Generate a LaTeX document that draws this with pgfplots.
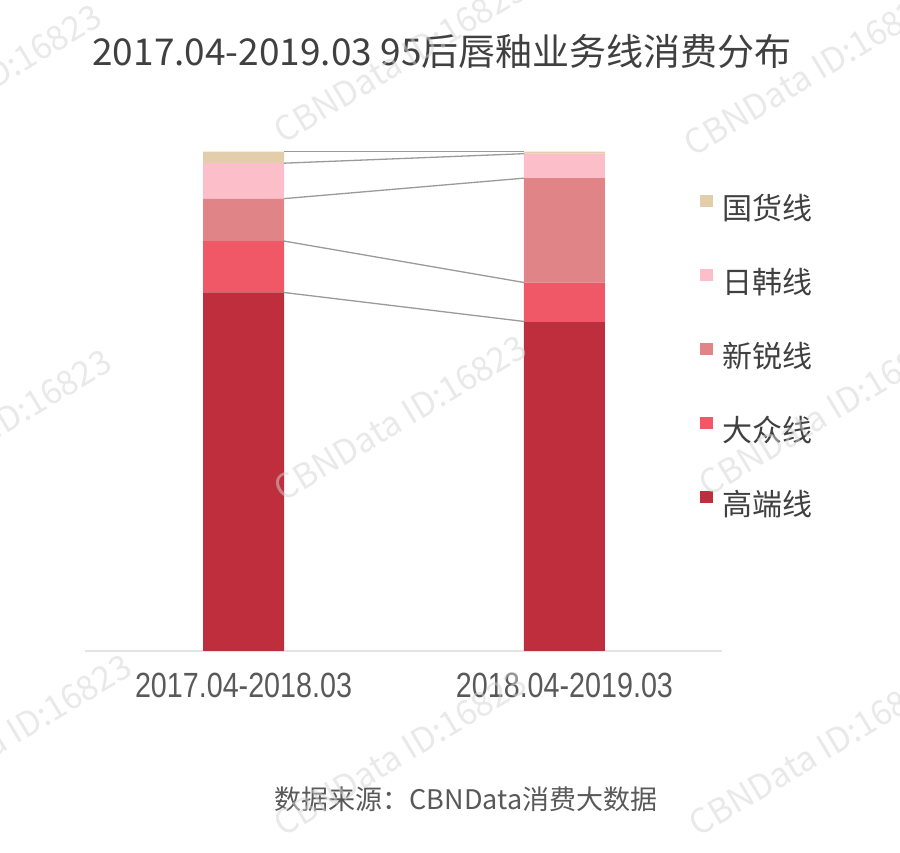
\documentclass[border=0pt]{standalone}
\usepackage{pgfplots}
\pgfplotsset{compat=1.18}
\usepackage{fontspec}
\setmainfont{Noto Sans CJK SC}
\newfontfamily\tickfont[FakeStretch=0.82]{Liberation Sans}
\definecolor{cGD}{HTML}{BE2E3C}
\definecolor{cDZ}{HTML}{F05868}
\definecolor{cXR}{HTML}{E08488}
\definecolor{cRH}{HTML}{FCBEC8}
\definecolor{cGH}{HTML}{E2CEAA}
\definecolor{linegray}{HTML}{9A9A9A}
\definecolor{titlegray}{HTML}{404040}
\definecolor{tickgray}{HTML}{595959}
\definecolor{wm}{RGB}{212,212,212}
\begin{document}
\begin{tikzpicture}
\path[use as bounding box] (0pt,0pt) rectangle (900pt,852pt);
\begin{axis}[
  at={(85pt,201pt)}, anchor=south west, scale only axis,
  width=636.7pt, height=499.3pt,
  xmin=-0.494, xmax=1.490, ymin=0, ymax=100, enlargelimits=false,
  ybar stacked, bar width=81pt,
  axis y line=none, axis x line*=bottom,
  x axis line style={draw=gray!22, line width=2pt, -},
  xtick={0,1}, xticklabels={2017.04-2018.03, 2018.04-2019.03},
  major tick length=0pt,
  xticklabel style={font=\tickfont\fontsize{35}{40}\selectfont, text=tickgray, anchor=base, yshift=-46pt, inner sep=0pt},
  ytick=\empty,
  reverse legend,
  legend image code/.code={\fill[#1] (0pt,5pt) rectangle (13pt,17pt);},
  legend cell align=left,
  legend style={at={(axis description cs:0.966,0.913)}, anchor=north west,
    draw=none, fill=none, inner sep=0pt, row sep=44pt, column sep=9pt,
    font=\fontsize{30}{34}\selectfont, text=titlegray,
    nodes={inner sep=0pt, text height=20pt, text depth=6pt}},
]
\addplot[fill=cGD, draw=none] coordinates {(0,71.8) (1,66.0)};
\addplot[fill=cDZ, draw=none] coordinates {(0,10.3) (1,7.8)};
\addplot[fill=cXR, draw=none] coordinates {(0,8.5) (1,20.9)};
\addplot[fill=cRH, draw=none] coordinates {(0,7.1) (1,4.9)};
\addplot[fill=cGH, draw=none] coordinates {(0,2.3) (1,0.4)};
\legend{高端线,大众线,新锐线,日韩线,国货线}
\end{axis}
\begin{axis}[
  at={(85pt,201pt)}, anchor=south west, scale only axis,
  width=636.7pt, height=499.3pt,
  xmin=-0.494, xmax=1.490, ymin=0, ymax=100, enlargelimits=false,
  hide axis,
]
\addplot[linegray, line width=1.3pt, no marks] coordinates {(0.126,71.8) (0.874,66.0)};
\addplot[linegray, line width=1.3pt, no marks] coordinates {(0.126,82.1) (0.874,73.8)};
\addplot[linegray, line width=1.3pt, no marks] coordinates {(0.126,90.6) (0.874,94.7)};
\addplot[linegray, line width=1.3pt, no marks] coordinates {(0.126,97.7) (0.874,99.6)};
\addplot[linegray, line width=1.3pt, no marks] coordinates {(0.126,100) (0.874,100)};
\end{axis}
\node[anchor=base, text=titlegray, font=\fontsize{37}{41}\selectfont] at (442pt,786pt) {2017.04-2019.03 95后唇釉业务线消费分布};
\node[anchor=base, text=tickgray, font=\fontsize{27}{30}\selectfont] at (466pt,43pt) {数据来源：CBNData消费大数据};
% watermarks
\begin{scope}[opacity=0.5]
\foreach \x/\y in {-25/765, 400/792, 810/779, -15/420, 400/434, 825/439, 5/115, 400/99, 815/99}{
  \node[rotate=31, text=wm, font=\fontsize{34}{38}\selectfont] at (\x pt,\y pt) {CBNData ID:16823};
}
\end{scope}
\end{tikzpicture}
\end{document}
